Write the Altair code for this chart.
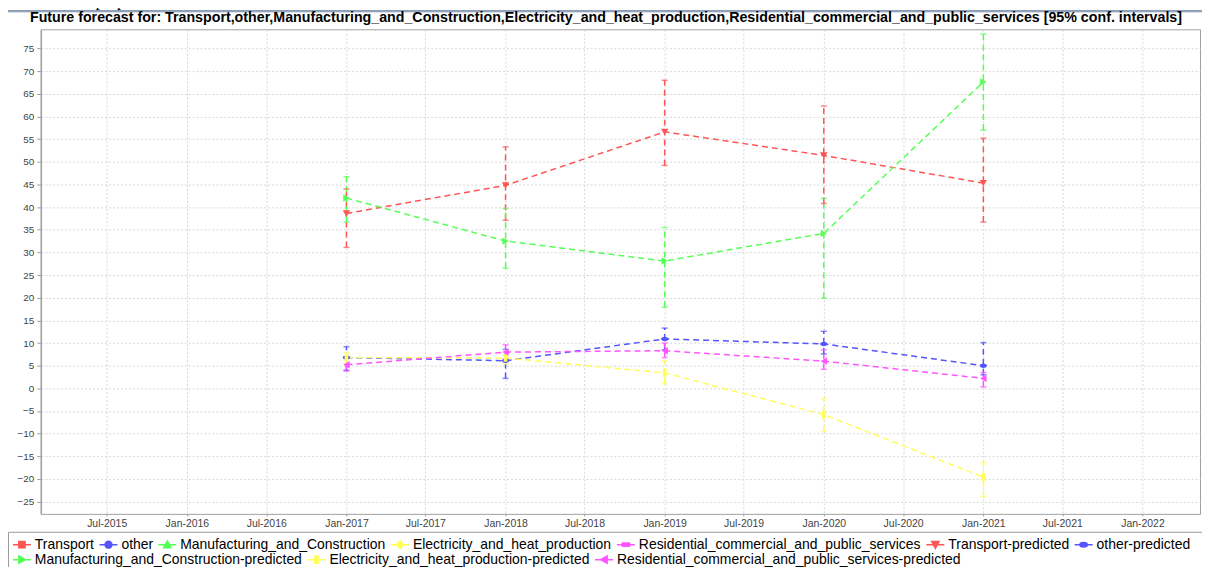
import altair as alt
import pandas as pd

# ---------------- data ----------------
dates = ["2017-01-01", "2018-01-01", "2019-01-01", "2020-01-01", "2021-01-01"]

transport_pred = [38.6, 44.8, 56.6, 51.4, 45.3]
transport_lo = [31.1, 37.1, 49.2, 40.8, 36.7]
transport_hi = [44.0, 53.3, 68.0, 62.3, 55.2]

other_pred = [6.8, 6.1, 10.9, 9.8, 5.0]
other_lo = [4.0, 2.2, 8.5, 7.6, 3.0]
other_hi = [9.2, 8.6, 13.3, 12.6, 10.1]

manuf_pred = [42.0, 32.5, 28.1, 34.2, 67.6]
manuf_lo = [36.7, 26.5, 17.9, 19.9, 57.0]
manuf_hi = [46.7, 39.7, 35.5, 41.9, 78.2]

elec_pred = [6.8, 6.7, 3.4, -5.8, -19.6]
elec_lo = [5.6, 5.4, 1.0, -9.5, -23.9]
elec_hi = [7.9, 8.0, 6.0, -2.2, -16.3]

resid_pred = [5.2, 8.0, 8.3, 6.0, 2.2]
resid_lo = [3.8, 6.5, 6.8, 4.2, 0.3]
resid_hi = [6.8, 9.6, 10.0, 8.5, 3.5]

y_tick_values = [-25, -20, -15, -10, -5, 0, 5, 10, 15, 20, 25, 30, 35, 40, 45, 50, 55, 60, 65, 70, 75]

observed_names = ["Transport", "other", "Manufacturing_and_Construction",
                  "Electricity_and_heat_production",
                  "Residential_commercial_and_public_services"]
predicted_names = [n + "-predicted" for n in observed_names]
all_names = observed_names + predicted_names

base_colors = ["#ff5555", "#5555ff", "#55ff55", "#ffff55", "#ff55ff"]
all_colors = base_colors + base_colors

# marker shapes of the predicted series in the plot
pred_shapes = [
    "triangle-down",
    "M-1,0A1,0.6 0 1,0 1,0A1,0.6 0 1,0 -1,0Z",
    "triangle-right",
    "M-0.5,-1H0.5V1H-0.5Z",
    "triangle-left",
]

# legend symbols: short line + marker
LINE = "M-1,0H1"
legend_paths = [
    LINE + "M-0.35,-0.35H0.35V0.35H-0.35Z",
    LINE + "M-0.38,0A0.38,0.38 0 1,0 0.38,0A0.38,0.38 0 1,0 -0.38,0Z",
    LINE + "M0,-0.4L0.4,0.35L-0.4,0.35Z",
    LINE + "M0,-0.42L0.42,0L0,0.42L-0.42,0Z",
    LINE + "M-0.4,-0.18H0.4V0.18H-0.4Z",
    LINE + "M0,0.4L0.4,-0.35L-0.4,-0.35Z",
    LINE + "M-0.42,0A0.42,0.25 0 1,0 0.42,0A0.42,0.25 0 1,0 -0.42,0Z",
    LINE + "M0.4,0L-0.35,0.4L-0.35,-0.4Z",
    LINE + "M-0.18,-0.4H0.18V0.4H-0.18Z",
    LINE + "M-0.4,0L0.35,0.4L0.35,-0.4Z",
]

title_text = ("Future forecast for: Transport,other,Manufacturing_and_Construction,"
              "Electricity_and_heat_production,Residential_commercial_and_public_services "
              "[95% conf. intervals]")
top_text = "ard increase in proportion of carbon emission contribution"

# ---------------- tables ----------------
rows = []
for name, v, lo, hi in [
    (predicted_names[0], transport_pred, transport_lo, transport_hi),
    (predicted_names[1], other_pred, other_lo, other_hi),
    (predicted_names[2], manuf_pred, manuf_lo, manuf_hi),
    (predicted_names[3], elec_pred, elec_lo, elec_hi),
    (predicted_names[4], resid_pred, resid_lo, resid_hi),
]:
    for d, a, b, c in zip(dates, v, lo, hi):
        rows.append({"date": d, "series": name, "value": a, "lo": b, "hi": c})
df = pd.DataFrame(rows)
one = pd.DataFrame({"k": [0]})

# ---------------- layout constants ----------------
W, H = 1165, 487
PAD = {"left": 33, "top": 20, "right": 2, "bottom": 52}
FONT = "Liberation Sans"

xscale = alt.Scale(type="utc",
                   domain=[alt.DateTime(year=2015, month=1, date=31, utc=True),
                           alt.DateTime(year=2022, month=5, date=13, utc=True)])
yscale = alt.Scale(domain=[-27.7, 79.24], nice=False, zero=False)
cscale = alt.Scale(domain=predicted_names, range=base_colors)

xticks = []
for yr in range(2015, 2023):
    for m in (1, 7):
        if (yr == 2015 and m == 1) or (yr == 2022 and m == 7):
            continue
        xticks.append(alt.DateTime(year=yr, month=m, date=1, utc=True))

xaxis = alt.Axis(values=xticks, format="%b-%Y", title=None,
                 labelFont=FONT, labelFontSize=10.5, labelColor="#444444",
                 tickSize=2, tickColor="#999999", labelPadding=3, domain=False,
                 labelOverlap=False, labelFlush=False,
                 grid=True, gridColor="#d8d8d8", gridDash=[2, 2])
yaxis = alt.Axis(values=y_tick_values, title=None,
                 labelFont=FONT, labelFontSize=10, labelColor="#444444",
                 tickSize=4, tickColor="#999999", labelPadding=3,
                 labelOverlap=False, labelFlush=False,
                 domainColor="#a0a0a0", domainWidth=1.5,
                 grid=True, gridColor="#d8d8d8", gridDash=[2, 2])


def X():
    return alt.X("date:T", scale=xscale, axis=xaxis)


def Y(field):
    return alt.Y(field, type="quantitative", scale=yscale, axis=yaxis)


C = alt.Color("series:N", scale=cscale, legend=None)

lines = alt.Chart(df).mark_line(strokeDash=[6, 4], strokeWidth=1.5).encode(
    x=X(), y=Y("value"), color=C)

errs = alt.Chart(df).mark_rule(strokeDash=[6, 4], strokeWidth=1.5).encode(
    x=X(), y=Y("lo"), y2="hi:Q", color=C)

cap_lo = alt.Chart(df).mark_tick(orient="horizontal", size=6, thickness=1.5).encode(
    x=X(), y=Y("lo"), color=C)
cap_hi = alt.Chart(df).mark_tick(orient="horizontal", size=6, thickness=1.5).encode(
    x=X(), y=Y("hi"), color=C)

points = alt.Chart(df).mark_point(filled=True, size=55, opacity=1).encode(
    x=X(), y=Y("value"), color=C,
    shape=alt.Shape("series:N", scale=alt.Scale(domain=predicted_names, range=pred_shapes),
                    legend=None))


def legend_row(names, colors, paths, ly):
    lg = alt.Legend(title=None, orient="none", legendX=-29, legendY=ly,
                    direction="horizontal", columns=len(names),
                    symbolSize=324, symbolStrokeWidth=1.5, symbolOpacity=1,
                    labelFont=FONT, labelFontSize=14, labelColor="black",
                    labelOffset=3, labelLimit=800, columnPadding=2, rowPadding=0,
                    padding=0)
    return alt.Chart(pd.DataFrame({"series": names})).mark_point(
        filled=True, size=324, strokeWidth=1.5).encode(
        x=alt.value(-3000), y=alt.value(-3000),
        fill=alt.Fill("series:N", scale=alt.Scale(domain=names, range=colors), legend=lg),
        stroke=alt.Stroke("series:N", scale=alt.Scale(domain=names, range=colors), legend=lg),
        shape=alt.Shape("series:N", scale=alt.Scale(domain=names, range=paths), legend=lg),
    )


leg1 = legend_row(all_names[:7], all_colors[:7], legend_paths[:7], 536 - 28)
leg2 = legend_row(all_names[7:], all_colors[7:], legend_paths[7:], 551 - 28)

legend_box = alt.Chart(one).mark_rect(fillOpacity=0, stroke="#9a9a9a", strokeWidth=1).encode(
    x=alt.value(8.5 - 41), x2=alt.value(1250), y=alt.value(533.5 - 28), y2=alt.value(620))

# decorations (page text outside the plot)
top = alt.Chart(one).mark_text(text=top_text, align="left", baseline="alphabetic",
                               font="Liberation Serif", fontSize=16, color="black").encode(
    x=alt.value(-42), y=alt.value(5 - 28))
sep = alt.Chart(one).mark_rule(color="#8c9db6", strokeWidth=2).encode(
    x=alt.value(5 - 41), x2=alt.value(1210 - 41), y=alt.value(9.5 - 28))
sep2 = alt.Chart(one).mark_rule(color="#d5dce6", strokeWidth=1).encode(
    x=alt.value(5 - 41), x2=alt.value(1210 - 41), y=alt.value(11 - 28))
title = alt.Chart(one).mark_text(text=title_text, align="center", baseline="alphabetic",
                                 font=FONT, fontSize=14.3, fontWeight="bold", color="black").encode(
    x=alt.value(609 - 41), y=alt.value(21 - 28))

chart = alt.layer(lines, errs, cap_lo, cap_hi, points, legend_box, leg1, leg2,
                  top, sep, sep2, title).resolve_scale(
    shape="independent", fill="independent", stroke="independent"
).properties(
    width=W, height=H, padding=PAD, autosize=alt.AutoSizeParams(type="none")
).configure_view(stroke="#a0a0a0", strokeWidth=1
).configure_axis(labelOverlap=False, labelSeparation=0)

chart.save("out.html", embed_options={"renderer": "svg", "actions": False})
